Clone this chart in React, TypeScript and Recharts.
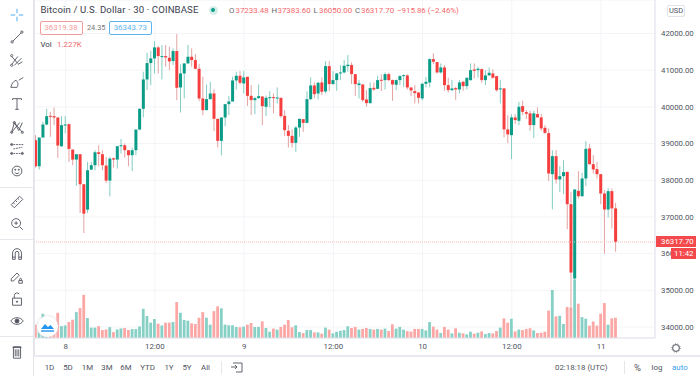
import React from "react";
import { Bar, CartesianGrid, Cell, ComposedChart, ReferenceLine, XAxis, YAxis } from "recharts";

const opens = [
  39092, 38382, 39165, 39520, 39756, 39747, 39711, 38928, 39502, 39529,
  38837, 38564, 38710, 37891, 37199, 38291, 38410, 38764, 38710, 38400,
  37991, 38600, 38564, 38928, 38955, 38819, 38683, 38819, 39383, 39947,
  40748, 41194, 41322, 41622, 41367, 41385, 41340, 41249, 41522, 40530,
  40912, 41185, 41367, 41276, 41039, 40230, 39911, 40211, 40366, 39675,
  39074, 39711, 40075, 40148, 40721, 40848, 40639, 40821, 40302, 40184,
  40239, 40284, 40002, 40248, 40266, 40239, 40248, 39756, 39347, 39210,
  39019, 39438, 39665, 39565, 40211, 40584, 40366, 40666, 40421, 41112,
  40621, 40730, 40912, 40939, 41112, 41140, 40894, 40594, 40612, 40202,
  40102, 40521, 40493, 40739, 40730, 40894, 40730, 40603, 40730, 40848,
  40857, 40530, 40430, 40393, 40230, 40630, 40666, 41303, 41221, 40939,
  41076, 40594, 40457, 40512, 40475, 40685, 40566, 40730, 41021, 41003,
  41030, 40730, 40857, 40912, 40839, 40477, 40505, 39386, 39230, 39713,
  39621, 40022, 39858, 39823, 39503, 39803, 39713, 39430, 39285, 38166,
  38658, 38022, 38112, 38229, 37348, 35321, 37711, 37566, 38049, 38868,
  38439, 38303, 38166, 37640, 37203, 37703, 37233.48,
];
const highs = [
  39229, 39165, 39592, 39947, 39865, 39984, 39711, 39747, 39747, 39547,
  38837, 38710, 38710, 37891, 38500, 38500, 38819, 38955, 38819, 38637,
  38637, 38619, 38928, 39128, 39001, 38819, 38892, 39383, 39966, 40958,
  41476, 41531, 41795, 41658, 41686, 41686, 41640, 41595, 41986, 41158,
  41185, 41686, 41595, 41440, 41167, 40821, 40612, 40685, 40475, 39675,
  39711, 40075, 40302, 40821, 40958, 40976, 40976, 40821, 40594, 40275,
  40612, 40284, 40311, 40430, 40366, 40530, 40248, 39911, 39502, 39383,
  39474, 39675, 39665, 40430, 40803, 40666, 40685, 40803, 41249, 41249,
  40976, 40930, 41140, 41276, 41412, 41212, 40894, 40730, 40612, 40457,
  40666, 40666, 40848, 40885, 40939, 40930, 40748, 40748, 40866, 40885,
  40885, 40530, 40594, 40393, 40657, 40821, 41322, 41458, 41221, 41185,
  41140, 40794, 40730, 40548, 40730, 40712, 40794, 41185, 41185, 41094,
  41048, 41003, 41076, 41021, 40839, 40731, 40505, 39776, 39803, 39803,
  40139, 40166, 39913, 39894, 39894, 39986, 39803, 39503, 39413, 38821,
  38821, 38385, 38548, 38229, 37683, 37749, 38248, 38202, 39067, 38985,
  38685, 38502, 38166, 37730, 37793, 37776, 37383.6,
];
const lows = [
  38346, 38291, 39165, 39502, 39183, 39502, 38610, 38910, 39274, 38500,
  38410, 37845, 37108, 36562, 37108, 38273, 38273, 38382, 38273, 37927,
  37563, 38346, 38319, 38728, 38619, 38382, 38255, 38683, 39365, 39711,
  40457, 40593, 40912, 40912, 40748, 41094, 41003, 41140, 40184, 39847,
  40230, 41185, 41094, 41021, 40157, 39775, 39911, 40202, 39338, 38892,
  38683, 39474, 39775, 40148, 40475, 40612, 40366, 40029, 39775, 39802,
  40220, 39502, 39747, 39984, 39820, 40093, 39711, 39201, 38892, 38892,
  38773, 39183, 39320, 39547, 40184, 40230, 40202, 40320, 40366, 40430,
  40612, 40439, 40730, 40912, 40958, 40621, 40302, 40230, 40139, 40002,
  40093, 40439, 40484, 40430, 40475, 40703, 40166, 40457, 40594, 40548,
  40475, 40293, 40093, 40093, 40184, 40530, 40530, 41167, 40912, 40912,
  40439, 40393, 40430, 40184, 40366, 40439, 40475, 40712, 40775, 40803,
  40657, 40594, 40894, 40766, 40412, 40095, 39168, 39012, 38576, 39531,
  39503, 39776, 39667, 39348, 39149, 39713, 39348, 39258, 37983, 37203,
  37913, 37683, 37621, 36666, 34437, 35001, 37503, 37547, 37847, 38420,
  38185, 38049, 37348, 36003, 36985, 36685, 36050,
];
const closes = [
  38382, 39165, 39520, 39747, 39729, 39711, 38946, 39502, 39520, 38855,
  38564, 38710, 37891, 37090, 38273, 38410, 38764, 38719, 38410, 37991,
  38591, 38564, 38928, 38955, 38819, 38683, 38819, 39383, 39947, 40748,
  41194, 41322, 41622, 41385, 41385, 41349, 41240, 41522, 40521, 40912,
  41185, 41367, 41276, 41039, 40230, 39911, 40211, 40366, 39675, 39074,
  39711, 40075, 40148, 40721, 40848, 40657, 40803, 40302, 40184, 40239,
  40293, 40020, 40248, 40266, 40248, 40257, 39747, 39365, 39210, 39019,
  39438, 39675, 39565, 40211, 40584, 40348, 40657, 40412, 41112, 40621,
  40730, 40912, 40939, 41121, 41149, 40894, 40621, 40639, 40184, 40102,
  40512, 40475, 40730, 40712, 40894, 40730, 40612, 40730, 40839, 40866,
  40530, 40448, 40375, 40248, 40630, 40685, 41303, 41231, 40939, 41076,
  40594, 40457, 40503, 40475, 40666, 40566, 40794, 41003, 40985, 41039,
  40730, 40857, 40930, 40794, 40457, 40505, 39386, 39250, 39713, 39640,
  40003, 39866, 39812, 39503, 39823, 39713, 39413, 39293, 38185, 38658,
  38022, 38112, 38221, 37348, 35484, 37749, 37566, 38049, 38857, 38439,
  38295, 38166, 37640, 37203, 37703, 37233, 36317.7,
];
const volumes = [
  0.81, 0.97, 1.47, 1.0, 0.4, 0.6, 1.53, 0.72, 0.76, 0.97,
  1.11, 1.57, 1.81, 2.62, 1.21, 0.63, 0.63, 0.72, 0.48, 0.52,
  0.66, 0.36, 0.52, 0.58, 0.6, 0.48, 0.54, 0.54, 0.7, 1.77,
  1.33, 0.93, 1.15, 0.87, 0.76, 0.93, 0.93, 0.97, 2.18, 1.53,
  1.09, 1.05, 0.89, 0.85, 1.23, 1.57, 1.23, 0.81, 1.63, 1.92,
  1.8, 0.81, 0.77, 0.77, 0.67, 0.65, 0.69, 0.81, 0.91, 0.67,
  0.67, 1.01, 0.61, 0.38, 0.57, 0.51, 0.67, 0.81, 1.09, 0.65,
  0.77, 0.36, 0.3, 0.48, 0.48, 0.34, 0.34, 0.26, 0.63, 0.51,
  0.28, 0.38, 0.44, 0.48, 0.71, 0.61, 0.67, 0.51, 0.55, 0.61,
  0.55, 0.51, 0.55, 0.51, 0.57, 0.42, 0.83, 0.57, 0.67, 0.51,
  0.42, 0.38, 0.55, 0.55, 0.55, 0.46, 0.97, 0.69, 0.51, 0.3,
  0.67, 0.51, 0.28, 0.59, 0.32, 0.28, 0.22, 0.38, 0.26, 0.32,
  0.4, 0.24, 0.3, 0.28, 0.42, 0.63, 1.19, 0.93, 1.17, 0.4,
  0.51, 0.48, 0.55, 0.59, 0.46, 0.3, 0.32, 0.38, 1.66, 2.91,
  1.31, 1.35, 0.85, 1.88, 1.84, 3.55, 2.08, 1.27, 1.17, 0.75,
  1.0, 0.75, 1.47, 2.12, 0.81, 1.19, 1.227,
];

const SLOTS = 167; // empty slots on the right of the last candle
const priceTicks = [34000, 35000, 36000, 37000, 38000, 39000, 40000, 41000, 42000];
const timeLabels: Record<number, string> = { 8: "8", 32: "12:00", 56: "9", 80: "12:00", 104: "10", 128: "12:00", 152: "11" };
const timeTicks = Object.keys(timeLabels).map(Number);
const ranges = ["1D", "5D", "1M", "3M", "6M", "YTD", "1Y", "5Y", "All"];
const rangeX = [49.5, 68, 87.5, 107, 126, 147.5, 169, 187, 205.5];

const UP = "#0b9c88";
const DOWN = "#f53f3f";
const FONT = "Roboto, sans-serif";
const INK = "#50535e";

const rows = Array.from({ length: SLOTS }, (_, i) =>
  i < opens.length
    ? { i, open: opens[i], close: closes[i], high: highs[i], low: lows[i], range: [lows[i], highs[i]], vol: volumes[i] }
    : { i },
);

function Candle(props: any) {
  const { x, y, width, height, payload } = props;
  if (payload.open == null) return null;
  const k = height / (payload.high - payload.low);
  const top = y + (payload.high - Math.max(payload.open, payload.close)) * k;
  const bodyH = Math.max(1, Math.abs(payload.open - payload.close) * k);
  const up = payload.close >= payload.open;
  const mid = x + width / 2;
  return (
    <g>
      <line x1={mid} x2={mid} y1={y} y2={y + height} stroke={up ? "#83cdc3" : "#e3a3a3"} strokeWidth={1} />
      <rect x={x} y={top} width={width} height={bodyH} fill={up ? UP : DOWN} />
    </g>
  );
}

function Icon({ y, children, size = 16 }: { y: number; children: React.ReactNode; size?: number }) {
  return (
    <svg
      width={size}
      height={size}
      viewBox="0 0 18 18"
      style={{ position: "absolute", left: 8.5, top: y - size / 2 }}
      fill="none"
      stroke={INK}
      strokeWidth={1}
    >
      {children}
    </svg>
  );
}

function Toolbar() {
  const sep = (y: number) => <div style={{ position: "absolute", left: 0, top: y, width: 33, height: 1, background: "#e6e8ee" }} />;
  return (
    <div style={{ position: "absolute", left: 0, top: 0, width: 33, height: 376, background: "#fff", borderRight: "2px solid #e4e6ec" }}>
      <Icon y={15}>
        <path d="M9 2v5M9 11v5M2 9h5M11 9h5" stroke="#3aa0ee" />
      </Icon>
      <Icon y={37}>
        <path d="M4.5 13.5L13.5 4.5" />
        <circle cx="3.5" cy="14.5" r="1.3" />
        <circle cx="14.5" cy="3.5" r="1.3" />
      </Icon>
      <Icon y={60}>
        <path d="M3 14L10 5M6 15L14 7M3 5l7 8M10 14l5-3" />
        <circle cx="3" cy="15" r="1.2" />
        <circle cx="3" cy="4" r="1.2" />
      </Icon>
      <Icon y={82}>
        <path d="M2 15h7c2-3 1-6-1-8-3 1-5 4-6 8zM11 7l5-3" />
      </Icon>
      <Icon y={104}>
        <path d="M4 3h10M9 3v12M7 15h4M4 3v1.5M14 3v1.5" />
      </Icon>
      <Icon y={127}>
        <path d="M3 15L6 4l5 9 4-9M3 15l9-11M6 4l9 11" />
        <circle cx="3" cy="15" r="1.2" />
        <circle cx="6" cy="4" r="1.2" />
        <circle cx="15" cy="15" r="1.2" />
      </Icon>
      <Icon y={149}>
        <path d="M2 4h14M5 9l10-2M2 14h14" strokeDasharray="2 1" />
        <circle cx="3" cy="4" r="1.2" />
        <circle cx="3" cy="14" r="1.2" />
        <circle cx="15" cy="14" r="1.2" />
      </Icon>
      <Icon y={171}>
        <circle cx="9" cy="9" r="5.5" />
        <path d="M6.5 10.5c1.5 2 3.5 2 5 0" />
        <circle cx="7" cy="7.5" r="0.6" fill={INK} />
        <circle cx="11" cy="7.5" r="0.6" fill={INK} />
      </Icon>
      {sep(187)}
      <Icon y={202}>
        <path d="M2.5 12L12 2.5l3.5 3.5L6 15.5zM5 10l1.5 1.5M7.5 7.5L9 9M10 5l1.5 1.5" />
      </Icon>
      <Icon y={224}>
        <circle cx="8" cy="8" r="5" />
        <path d="M12 12l3.5 3.5M6 8h4M8 6v4" />
      </Icon>
      {sep(239)}
      <Icon y={254}>
        <path d="M4 15V8a5 5 0 0 1 10 0v7h-3V8a2 2 0 0 0-4 0v7zM4 12.5h3M11 12.5h3" />
      </Icon>
      <Icon y={277}>
        <path d="M2.5 11L9 4.5l2.5 2.5L5 13.5H2.5zM11 13h4v3h-4zM12 13v-1.5a1 1 0 0 1 2 0V13" />
      </Icon>
      <Icon y={299}>
        <path d="M4 8h10v8H4zM6 8V5a3 3 0 0 1 5.5-1.5" />
        <circle cx="9" cy="12" r="0.7" fill={INK} />
      </Icon>
      <Icon y={321}>
        <path d="M2 9c3-5 11-5 14 0-3 5-11 5-14 0z" />
        <circle cx="9" cy="9" r="2.2" fill={INK} />
      </Icon>
      {sep(336)}
      <Icon y={352}>
        <path d="M5 3h8v13H5zM4 4h10M7 6v8M9 6v8M11 6v8" />
      </Icon>
    </div>
  );
}

const label = (left: number, top: number, text: string, extra: React.CSSProperties = {}) => (
  <div key={`${left}-${text}`} style={{ position: "absolute", left, top, fontSize: 7.9, lineHeight: "12px", color: INK, whiteSpace: "nowrap", ...extra }}>{text}</div>
);

function Legend() {
  const red = "#f2686b";
  const box = (left: number, width: number, color: string, text: string) => (
    <div
      style={{
        position: "absolute", left, top: 20.5, width, height: 14, boxSizing: "border-box", border: `1px solid ${color}`,
        borderRadius: 2, color, fontSize: 7.9, lineHeight: "12px", textAlign: "center", background: "#fff",
      }}
    >
      {text}
    </div>
  );
  return (
    <>
      {label(40.5, 4, "Bitcoin / U.S. Dollar · 30 · COINBASE", { fontSize: 9.6, letterSpacing: 0.12, color: "#3a3d4c" })}
      <div style={{ position: "absolute", left: 208.5, top: 5.5, width: 9, height: 9, borderRadius: 5, background: "#d5eeea" }} />
      <div style={{ position: "absolute", left: 210.7, top: 7.7, width: 4.6, height: 4.6, borderRadius: 3, background: UP }} />
      {label(229, 5, "O", { color: "#666" })}
      {label(235.5, 5, "37233.48", { color: red })}
      {label(271.5, 5, "H", { color: "#666" })}
      {label(277.5, 5, "37383.60", { color: red })}
      {label(313.5, 5, "L", { color: "#666" })}
      {label(319, 5, "36050.00", { color: red })}
      {label(355, 5, "C", { color: "#666" })}
      {label(361, 5, "36317.70", { color: red })}
      {label(397, 5, "−915.86 (−2.46%)", { color: red })}
      {box(39.5, 43, "#f39c9c", "36319.38")}
      {label(87, 22, "24.35", { color: "#777", fontSize: 7.3 })}
      {box(109, 42.5, "#5db4f2", "36343.73")}
      {label(40.5, 39, "Vol", { color: "#3a3d4c" })}
      {label(57, 39, "1.227K", { color: red })}
    </>
  );
}

function BottomBar() {
  return (
    <>
      <div style={{ position: "absolute", left: 34, top: 355, width: 666, height: 21, background: "#fff", borderTop: "2px solid #e9ebf0", boxSizing: "border-box" }} />
      {ranges.map((r, n) => label(rangeX[n] - 15, 362, r, { width: 30, textAlign: "center" }))}
      <div style={{ position: "absolute", left: 221, top: 361, width: 1, height: 13, background: "#e4e6ec" }} />
      <svg width={12} height={12} viewBox="0 0 12 12" style={{ position: "absolute", left: 231, top: 361 }} fill="none" stroke={INK} strokeWidth={0.9}>
        <path d="M2 2h9v9H5M0 6h6M4 4l2 2-2 2" />
      </svg>
      {label(555, 362, "02:18:18 (UTC)")}
      <div style={{ position: "absolute", left: 624, top: 361, width: 1, height: 13, background: "#e4e6ec" }} />
      {label(634, 362, "%", { fontSize: 9.5 })}
      {label(651.5, 362, "log")}
      {label(672, 362, "auto", { color: "#3aa0ee" })}
    </>
  );
}

export default function App() {
  return (
    <div style={{ position: "absolute", left: 0, top: 0, width: 700, height: 376, overflow: "hidden", background: "#fff", fontFamily: FONT }}>
      <ComposedChart width={700} height={376} data={rows} margin={{ top: 0, right: 0, bottom: 0, left: 34 }}>
        <CartesianGrid stroke="#f3f4f7" xAxisId="time" yAxisId="price" />
        <XAxis
          xAxisId="time"
          dataKey="i"
          height={38}
          ticks={timeTicks}
          interval={0}
          tickFormatter={(v) => timeLabels[v]}
          tick={{ fontSize: 7.9, fill: INK, fontFamily: FONT }}
          tickLine={false}
          tickSize={0}
          tickMargin={5}
          axisLine={{ stroke: "#e0e3eb" }}
        />
        <XAxis xAxisId="bars" dataKey="i" hide height={0} />
        <YAxis
          yAxisId="price"
          orientation="right"
          width={45}
          domain={[33700, 42914]}
          allowDataOverflow
          ticks={priceTicks}
          interval={0}
          tickFormatter={(v) => v.toFixed(2)}
          tick={{ fontSize: 7.8, fill: INK, fontFamily: FONT }}
          tickLine={false}
          tickSize={0}
          tickMargin={6}
          axisLine={{ stroke: "#e0e3eb" }}
        />
        <YAxis yAxisId="vol" hide domain={[0, 20.5]} />
        <Bar xAxisId="bars" yAxisId="vol" dataKey="vol" barSize={2.8} isAnimationActive={false}>
          {rows.map((r: any) => (
            <Cell key={r.i} fill={r.close >= r.open ? "#86d0c5" : "#fba7a5"} />
          ))}
        </Bar>
        <Bar xAxisId="time" yAxisId="price" dataKey="range" barSize={3} shape={<Candle />} isAnimationActive={false} />
        <ReferenceLine xAxisId="time" yAxisId="price" y={36317.7} stroke="#f8b9b9" strokeDasharray="1 1" />
      </ComposedChart>
      <Legend />
      <Toolbar />
      <BottomBar />
      <div style={{ position: "absolute", left: 655.5, top: 236, width: 40.5, height: 11, background: "#f4494c", color: "#fff", fontSize: 7.8, lineHeight: "11px", paddingLeft: 5.5, boxSizing: "border-box" }}>36317.70</div>
      <div style={{ position: "absolute", left: 670.5, top: 247.5, width: 25.5, height: 11.5, background: "#f4494c", color: "#fff", fontSize: 7.8, lineHeight: "11.5px", paddingLeft: 3.5, boxSizing: "border-box" }}>11:42</div>
      <div style={{ position: "absolute", left: 667, top: 5, width: 18, height: 11.5, boxSizing: "border-box", border: "1px solid #e0e3eb", borderRadius: 2, fontSize: 7.5, lineHeight: "9.5px", textAlign: "center", color: INK }}>USD</div>
      <svg width={10} height={10} viewBox="0 0 10 10" style={{ position: "absolute", left: 671, top: 343 }} fill="none" stroke={INK}>
        <circle cx="5" cy="5" r="3.4" strokeWidth={1} />
        <circle cx="5" cy="5" r="4.2" strokeWidth={0.8} strokeDasharray="1 1.6" />
      </svg>
      <div style={{ position: "absolute", left: 37, top: 316, width: 21, height: 21, borderRadius: 11, background: "#fff", boxShadow: "0 0 3px #d5d8e0" }}>
        <svg width={21} height={21} viewBox="0 0 21 21">
          <path d="M4 13l4-5 3 3 2.5-2 3.5 4z" fill="#2196f3" />
          <path d="M4 15h13" stroke="#2196f3" strokeWidth={1.4} />
        </svg>
      </div>
    </div>
  );
}
